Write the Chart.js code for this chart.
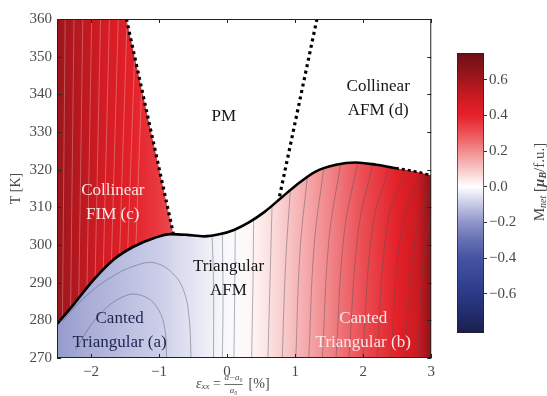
<!DOCTYPE html>
<html>
<head>
<meta charset="utf-8">
<script src="https://cdn.jsdelivr.net/npm/chart.js@4"></script>
<style>
  html, body { margin: 0; padding: 0; background: #fff; }
  #wrap { position: relative; width: 547px; height: 396px; }
  #main { position: absolute; left: 0; top: 0; }
  #bar { position: absolute; left: 440px; top: 0; }
</style>
</head>
<body>
<div id="wrap">
  <canvas id="main" width="440" height="396"></canvas>
  <canvas id="bar" width="107" height="396"></canvas>
</div>
<script>
// axes
const xTicks = [-2, -1, 0, 1, 2, 3];
const yTicks = [270, 280, 290, 300, 310, 320, 330, 340, 350, 360];
const cbTicks = [-0.6, -0.4, -0.2, 0, 0.2, 0.4, 0.6];
const cbMin = -0.82, cbMax = 0.75;

// solid phase boundary (strain %, T in K)
const boundaryX = [-2.5, -2.26, -1.96, -1.67, -1.37, -1.08, -0.83, -0.59, -0.34, -0.1, 0.1, 0.32, 0.55, 0.8, 1.01, 1.3, 1.6, 1.89, 2.19, 2.48];
const boundaryT = [279, 284.1, 290.8, 296.1, 299.6, 301.8, 302.9, 302.7, 302.3, 302.9, 304, 306, 308.8, 312.6, 315.8, 319.5, 321.3, 321.9, 321.3, 320.4];
// dotted continuation at the right
const extX = [2.48, 2.75, 3];
const extT = [320.4, 319.6, 318.5];
// dotted lines toward PM
const leftDotX = [-1.48, -0.79];
const leftDotT = [360, 303];
const rightDotX = [1.32, 0.76];
const rightDotT = [360, 312];
// upper edge of the FIM region
const fimEdgeX = [-2.5, -1.48, -0.79];
const fimEdgeT = [360, 360, 303];

// M_net along strain
const lowerX = [-2.5, -2, -1.5, -1, -0.5, 0, 0.3, 0.6, 1, 1.5, 2, 2.5, 2.8, 3];
const lowerM = [-0.19, -0.15, -0.12, -0.09, -0.05, -0.01, 0.01, 0.05, 0.12, 0.21, 0.31, 0.41, 0.5, 0.66];
const fimX = [-2.5, -2.2, -1.8, -1.4, -1.0, -0.8];
const fimM = [0.62, 0.55, 0.47, 0.41, 0.35, 0.31];

// contour lines
const contours = [
  [[-2.42, 279.8], [-2.1, 286], [-1.7, 291.5], [-1.3, 294.8], [-1.05, 295.2], [-0.8, 292.5], [-0.64, 288], [-0.56, 281], [-0.53, 270]],
  [[-2.23, 272.2], [-1.9, 281], [-1.5, 286.5], [-1.2, 286.2], [-1.0, 282.5], [-0.91, 277], [-0.89, 270]],
  [[-0.22, 302.3], [-0.2, 290], [-0.2, 270]],
  [[-0.07, 302.9], [-0.06, 285], [-0.07, 270]],
  [[0.12, 304.1], [0.11, 285], [0.1, 270]],
  [[0.39, 306.6], [0.38, 290], [0.36, 270]],
  [[0.66, 310.2], [0.63, 290], [0.6, 270]],
  [[0.93, 314.8], [0.86, 295], [0.81, 270]],
  [[1.18, 318.3], [1.07, 298], [1.01, 270]],
  [[1.42, 320.4], [1.28, 300], [1.2, 270]],
  [[1.67, 321.6], [1.5, 302], [1.4, 270]],
  [[1.92, 321.9], [1.72, 303], [1.6, 270]],
  [[2.14, 321.5], [1.93, 304], [1.79, 270]],
  [[2.38, 320.7], [2.14, 305], [1.99, 270]],
  [[2.62, 320.0], [2.36, 306], [2.2, 270]],
  [[2.86, 319.0], [2.58, 306], [2.4, 270]],
  [[3.0, 316], [2.78, 303], [2.6, 270]],
  [[3.0, 309], [2.88, 295], [2.8, 270]]
];
const fimLines = [
  [[-2.42, 280.6], [-2.38, 360]],
  [[-2.3, 283.3], [-2.25, 360]],
  [[-2.18, 286], [-2.12, 360]],
  [[-2.06, 288.7], [-1.99, 360]],
  [[-1.94, 291.2], [-1.86, 360]],
  [[-1.82, 293.5], [-1.73, 360]],
  [[-1.7, 295.6], [-1.6, 360]],
  [[-1.58, 297.4], [-1.47, 360]],
  [[-1.46, 298.9], [-1.34, 360]],
  [[-1.34, 299.9], [-1.22, 360]]
];

// region names
const regionLabels = [
  { lines: ['PM'], x: -0.05, y: 334, color: '#151515' },
  { lines: ['Collinear', 'AFM (d)'], x: 2.22, y: 338.8, color: '#151515' },
  { lines: ['Collinear', 'FIM (c)'], x: -1.68, y: 311.2, color: '#fbe6e6' },
  { lines: ['Triangular', 'AFM'], x: 0.02, y: 291.1, color: '#151515' },
  { lines: ['Canted', 'Triangular (a)'], x: -1.58, y: 277.2, color: '#1e2450' },
  { lines: ['Canted', 'Triangular (b)'], x: 2.0, y: 277.2, color: '#fbe6e6' }
];

// colour map of the colour bar
const cmapV = [-0.82, -0.6, -0.4, -0.3, -0.2, -0.1, 0, 0.1, 0.2, 0.3, 0.4, 0.5, 0.6, 0.75];
const cmapC = ['#1b1e4e', '#2b3a88', '#4453a3', '#6570b3', '#8f95c9', '#c6c8e5', '#ffffff',
               '#f8c6c6', '#f28c8e', '#ec5257', '#e6222a', '#cc1a21', '#a3161d', '#6a1016'];

function hex(c) {
  return [1, 3, 5].map(i => parseInt(c.substr(i, 2), 16));
}
function cmap(v) {
  v = Math.max(cmapV[0], Math.min(cmapV[cmapV.length - 1], v));
  for (let i = 1; i < cmapV.length; i++) {
    if (v <= cmapV[i]) {
      const t = (v - cmapV[i - 1]) / (cmapV[i] - cmapV[i - 1]);
      const a = hex(cmapC[i - 1]), b = hex(cmapC[i]);
      return 'rgb(' + a.map((u, k) => Math.round(u + (b[k] - u) * t)).join(',') + ')';
    }
  }
  return cmapC[cmapC.length - 1];
}

function hGrad(chart, xs, ms) {
  const { ctx, chartArea, scales } = chart;
  if (!chartArea) return cmap(ms[0]);
  const x0 = scales.x.getPixelForValue(-2.5), x1 = scales.x.getPixelForValue(3);
  const g = ctx.createLinearGradient(x0, 0, x1, 0);
  xs.forEach((x, i) => g.addColorStop((x + 2.5) / 5.5, cmap(ms[i])));
  return g;
}

const pts = (xs, ts) => xs.map((x, i) => ({ x: x, y: ts[i] }));
const pairPts = arr => arr.map(p => ({ x: p[0], y: p[1] }));
const serif = 'Liberation Serif, DejaVu Serif, serif';
const minus = v => (v < 0 ? '\u2212' + Math.abs(v) : String(v));

const datasets = [
  {
    data: pts(fimEdgeX, fimEdgeT),
    fill: 'start', borderWidth: 0, tension: 0, order: 20,
    backgroundColor: c => hGrad(c.chart, fimX, fimM)
  },
  {
    data: pts(boundaryX.concat(extX.slice(1)), boundaryT.concat(extT.slice(1))),
    fill: 'start', borderWidth: 0, cubicInterpolationMode: 'monotone', order: 19,
    backgroundColor: c => hGrad(c.chart, lowerX, lowerM)
  }
];
contours.forEach(c => datasets.push({
  data: pairPts(c), borderColor: 'rgba(80,80,90,0.55)', borderWidth: 0.8,
  tension: 0.4, fill: false, order: 10
}));
fimLines.forEach(c => datasets.push({
  data: pairPts(c), borderColor: 'rgba(255,255,255,0.35)', borderWidth: 0.8,
  tension: 0, fill: false, order: 10
}));
datasets.push(
  { data: pts(boundaryX, boundaryT), borderColor: '#000', borderWidth: 2.6,
    cubicInterpolationMode: 'monotone', fill: false, order: 2 },
  { data: pts(extX, extT), borderColor: '#000', borderWidth: 2.6, borderDash: [3, 3],
    cubicInterpolationMode: 'monotone', fill: false, order: 2 },
  { data: pts(leftDotX, leftDotT), borderColor: '#000', borderWidth: 3.2, borderDash: [3, 3.6],
    fill: false, order: 1 },
  { data: pts(rightDotX, rightDotT), borderColor: '#000', borderWidth: 3.2, borderDash: [3, 3.6],
    fill: false, order: 1 }
);

const labelPlugin = {
  id: 'regionLabels',
  afterDatasetsDraw(chart) {
    const { ctx, scales: { x, y } } = chart;
    ctx.save();
    ctx.font = '17px ' + serif;
    ctx.textAlign = 'center';
    ctx.textBaseline = 'middle';
    regionLabels.forEach(l => {
      const px = x.getPixelForValue(l.x), py = y.getPixelForValue(l.y);
      const top = py - (l.lines.length - 1) * 12;
      ctx.fillStyle = l.color;
      l.lines.forEach((t, i) => ctx.fillText(t, px, top + i * 24));
    });
    ctx.restore();
  }
};

const framePlugin = {
  id: 'frame',
  afterDatasetsDraw(chart) {
    const { ctx, chartArea: a, scales: { x, y } } = chart;
    ctx.save();
    ctx.strokeStyle = '#222';
    ctx.lineWidth = 1;
    ctx.strokeRect(a.left + 0.5, a.top + 0.5, a.right - a.left - 1, a.bottom - a.top - 1);
    ctx.beginPath();
    xTicks.forEach(v => {
      const p = Math.round(x.getPixelForValue(v)) + 0.5;
      ctx.moveTo(p, a.bottom); ctx.lineTo(p, a.bottom - 4);
      ctx.moveTo(p, a.top); ctx.lineTo(p, a.top + 4);
    });
    yTicks.forEach(v => {
      const p = Math.round(y.getPixelForValue(v)) + 0.5;
      ctx.moveTo(a.left, p); ctx.lineTo(a.left + 4, p);
      ctx.moveTo(a.right, p); ctx.lineTo(a.right - 4, p);
    });
    ctx.stroke();
    ctx.restore();
  }
};

// x title: eps_xx = (a - a0)/a0 [%]
const xTitlePlugin = {
  id: 'xTitle',
  afterDraw(chart) {
    const { ctx, chartArea: a } = chart;
    const yb = a.bottom + 26;
    let x = 196;
    ctx.save();
    ctx.fillStyle = '#4a4a4a';
    ctx.textBaseline = 'middle';
    ctx.textAlign = 'left';
    const put = (t, font, dy) => {
      ctx.font = font;
      ctx.fillText(t, x, yb + dy);
      x += ctx.measureText(t).width;
    };
    put('\u03b5', 'italic 14px ' + serif, 0);
    put('xx', 'italic 9px ' + serif, 3);
    put(' = ', '14px ' + serif, 0);
    ctx.font = 'italic 9px ' + serif;
    const num = 'a\u2212a\u2080', den = 'a\u2080';
    const wn = ctx.measureText(num).width, wd = ctx.measureText(den).width;
    ctx.fillText(num, x, yb - 6);
    ctx.fillText(den, x + (wn - wd) / 2, yb + 7);
    ctx.fillRect(x, yb, wn, 0.8);
    x += wn + 6;
    put('[%]', '14px ' + serif, 0);
    ctx.restore();
  }
};

new Chart(document.getElementById('main'), {
  type: 'line',
  data: { datasets: datasets },
  options: {
    responsive: false,
    animation: false,
    devicePixelRatio: 1,
    layout: { padding: { top: 19, right: 8, left: 0, bottom: 0 } },
    plugins: { legend: { display: false }, tooltip: { enabled: false } },
    elements: { point: { radius: 0 } },
    scales: {
      x: {
        type: 'linear', min: -2.5, max: 3,
        afterBuildTicks: s => { s.ticks = xTicks.map(v => ({ value: v })); },
        afterFit: s => { s.height = 38; },
        grid: { display: false, drawTicks: false },
        border: { display: false },
        ticks: { padding: 5, color: '#4a4a4a', font: { family: serif, size: 15 }, callback: v => minus(v) }
      },
      y: {
        type: 'linear', min: 270, max: 360,
        afterBuildTicks: s => { s.ticks = yTicks.map(v => ({ value: v })); },
        afterFit: s => { s.width = 57; },
        grid: { display: false, drawTicks: false },
        border: { display: false },
        ticks: { padding: 5, color: '#4a4a4a', font: { family: serif, size: 15 } },
        title: { display: true, text: 'T [K]', color: '#4a4a4a', font: { family: serif, size: 14 }, padding: { top: 8, bottom: 0 } }
      }
    }
  },
  plugins: [labelPlugin, framePlugin, xTitlePlugin]
});

// colour bar
const cbTitle = {
  id: 'cbTitle',
  afterDraw(chart) {
    const ctx = chart.ctx;
    const parts = [
      ['M', '15px ' + serif, 0],
      ['net', 'italic 10px ' + serif, 3],
      [' [', '15px ' + serif, 0],
      ['\u03bc', 'italic bold 15px ' + serif, 0],
      ['B', 'italic bold 10px ' + serif, 3],
      ['/f.u.]', '15px ' + serif, 0]
    ];
    ctx.save();
    ctx.translate(100, 182);
    ctx.rotate(-Math.PI / 2);
    ctx.fillStyle = '#4a4a4a';
    ctx.textBaseline = 'middle';
    let w = 0;
    parts.forEach(p => { ctx.font = p[1]; w += ctx.measureText(p[0]).width; });
    let x = -w / 2;
    parts.forEach(p => {
      ctx.font = p[1];
      ctx.fillText(p[0], x, p[2]);
      x += ctx.measureText(p[0]).width;
    });
    ctx.restore();
  }
};

new Chart(document.getElementById('bar'), {
  type: 'bar',
  data: {
    labels: [''],
    datasets: [{
      data: [[cbMin, cbMax]],
      barPercentage: 1, categoryPercentage: 1,
      borderColor: '#222', borderWidth: 1, borderSkipped: false,
      backgroundColor: c => {
        const { ctx, chartArea, scales } = c.chart;
        if (!chartArea) return '#fff';
        const g = ctx.createLinearGradient(0, scales.y.getPixelForValue(cbMax), 0, scales.y.getPixelForValue(cbMin));
        cmapV.forEach((v, i) => g.addColorStop((cbMax - v) / (cbMax - cbMin), cmapC[i]));
        return g;
      }
    }]
  },
  options: {
    responsive: false,
    animation: false,
    devicePixelRatio: 1,
    layout: { padding: { top: 53, bottom: 63, left: 17, right: 0 } },
    plugins: { legend: { display: false }, tooltip: { enabled: false } },
    scales: {
      x: { display: false },
      y: {
        position: 'right', min: cbMin, max: cbMax,
        afterBuildTicks: s => { s.ticks = cbTicks.map(v => ({ value: v })); },
        afterFit: s => { s.width = 63; },
        grid: { drawOnChartArea: false, drawTicks: true, tickLength: 3, color: '#333' },
        border: { display: false },
        ticks: { padding: 2, color: '#4a4a4a', font: { family: serif, size: 15 },
                 callback: v => (v < 0 ? '\u2212' : '') + Math.abs(v).toFixed(1) }
      }
    }
  },
  plugins: [cbTitle]
});
</script>
</body>
</html>
